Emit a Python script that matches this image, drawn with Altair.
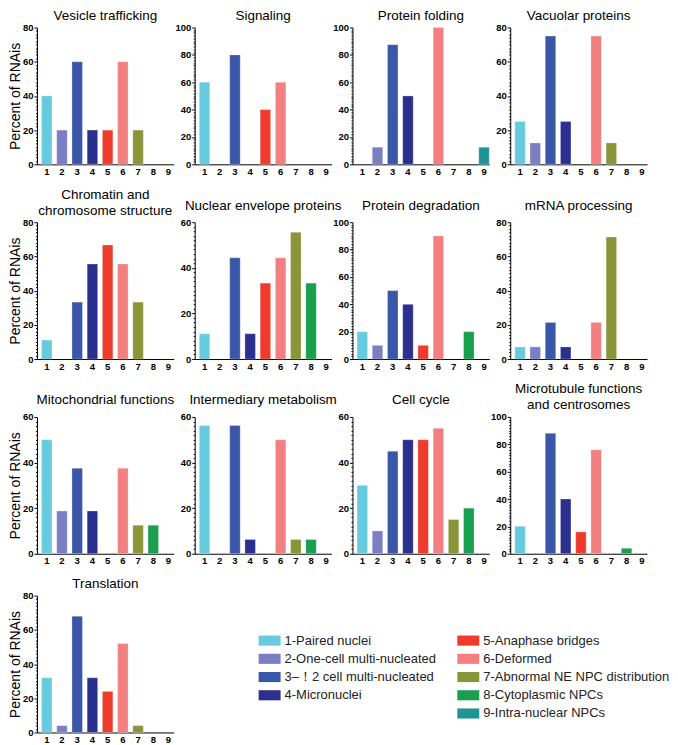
import altair as alt
import pandas as pd

FONT = "Liberation Sans"

categories = [1, 2, 3, 4, 5, 6, 7, 8, 9]
legend_labels = [
    "1-Paired nuclei",
    "2-One-cell multi-nucleated",
    "3–！2 cell multi-nucleated",
    "4-Micronuclei",
    "5-Anaphase bridges",
    "6-Deformed",
    "7-Abnormal NE NPC distribution",
    "8-Cytoplasmic NPCs",
    "9-Intra-nuclear NPCs",
]
bar_colors = ["#67CBE0", "#7A7EC2", "#3A56A6", "#2B2F8E", "#EE3B2C",
              "#F28080", "#8A9439", "#1A9E50", "#1E9494"]

vesicle_trafficking = [40, 20, 60, 20, 20, 60, 20, 0, 0]
signaling = [60, 0, 80, 0, 40, 60, 0, 0, 0]
protein_folding = [0, 12.5, 87.5, 50, 0, 100, 0, 0, 12.5]
vacuolar_proteins = [25, 12.5, 75, 25, 0, 75, 12.5, 0, 0]
chromatin = [11.1, 0, 33.3, 55.6, 66.7, 55.6, 33.3, 0, 0]
nuclear_envelope = [11.1, 0, 44.4, 11.1, 33.3, 44.4, 55.6, 33.3, 0]
protein_degradation = [20, 10, 50, 40, 10, 90, 0, 20, 0]
mrna_processing = [7.1, 7.1, 21.4, 7.1, 0, 21.4, 71.4, 0, 0]
mitochondrial = [50, 18.75, 37.5, 18.75, 0, 37.5, 12.5, 12.5, 0]
intermediary_metabolism = [56.25, 0, 56.25, 6.25, 0, 50, 6.25, 6.25, 0]
cell_cycle = [30, 10, 45, 50, 50, 55, 15, 20, 0]
microtubule = [20, 0, 88, 40, 16, 76, 0, 4, 0]
translation = [32, 4, 68, 32, 24, 52, 4, 0, 0]

panel_titles = [
    ["Vesicle trafficking"], ["Signaling"], ["Protein folding"], ["Vacuolar proteins"],
    ["Chromatin and", "chromosome structure"], ["Nuclear envelope proteins"],
    ["Protein degradation"], ["mRNA processing"],
    ["Mitochondrial functions"], ["Intermediary metabolism"], ["Cell cycle"],
    ["Microtubule functions", "and centrosomes"],
    ["Translation"],
]
panel_values = [
    vesicle_trafficking, signaling, protein_folding, vacuolar_proteins,
    chromatin, nuclear_envelope, protein_degradation, mrna_processing,
    mitochondrial, intermediary_metabolism, cell_cycle, microtubule,
    translation,
]
panel_ymax = [80, 100, 100, 80, 80, 60, 100, 80, 60, 60, 60, 100, 80]

W, H = 137, 137


def make_panel(idx):
    title_lines = panel_titles[idx]
    values = panel_values[idx]
    ymax = panel_ymax[idx]
    row = idx // 4
    first_col = idx % 4 == 0
    if len(title_lines) == 2:
        off = 0
    elif row in (1, 2):
        off = 5
    else:
        off = 0
    df = pd.DataFrame({"category": categories, "percent": values})
    df = df[df["percent"] > 0]
    tick_values = list(range(0, ymax + 1, 2))
    y_axis = alt.Axis(
        values=tick_values,
        labelExpr="datum.value % 20 == 0 ? datum.label : ''",
        tickSize={"condition": {"test": "datum.value % 20 == 0", "value": 3}, "value": 1.5},
        labelOverlap=False,
        grid=False,
        title="Percent of RNAis" if first_col else None,
        titleFontSize=14,
        titleFontWeight="normal",
        titleFont=FONT,
        titlePadding=0,
        titleColor="black",
        labelFont=FONT,
        labelFontSize=9.5,
        labelFontWeight="bold",
        labelColor="black",
        labelPadding=1,
        tickColor="black",
        domainColor="black",
    )
    x_axis = alt.Axis(
        labelAngle=0,
        ticks=False,
        title=None,
        labelFont=FONT,
        labelFontSize=9.5,
        labelFontWeight="bold",
        labelColor="black",
        labelPadding=2,
        domainColor="black",
    )
    return (
        alt.Chart(df)
        .mark_bar(stroke="white", strokeOpacity=0.35, strokeWidth=0.8)
        .encode(
            x=alt.X("category:O",
                    scale=alt.Scale(domain=categories, paddingInner=0.31,
                                    paddingOuter=0.15, align=1),
                    axis=x_axis),
            y=alt.Y("percent:Q", scale=alt.Scale(domain=[0, ymax], nice=False),
                    axis=y_axis),
            color=alt.Color("category:O",
                            scale=alt.Scale(domain=categories, range=bar_colors),
                            legend=None),
        )
        .properties(
            width=W,
            height=H,
            title=alt.TitleParams(text=title_lines, fontSize=13.5, fontWeight="normal",
                                  font=FONT, offset=off, lineHeight=16,
                                  color="black", anchor="middle"),
        )
    )


panels = [make_panel(i) for i in range(len(panel_titles))]

legend_df = pd.DataFrame({
    "label": legend_labels,
    "category": categories,
    "col": [0 if c <= 4 else 1 for c in categories],
    "row": [c - 1 if c <= 4 else c - 5 for c in categories],
})
lx = alt.X("col:Q", scale=alt.Scale(domain=[0, 1], range=[75, 274]), axis=None)
ly = alt.Y("row:Q", scale=alt.Scale(domain=[0, 4], range=[45, 118]), axis=None)
swatches = alt.Chart(legend_df).mark_point(
    shape="M-1,-0.46L1,-0.46L1,0.46L-1,0.46Z", size=484, filled=True, opacity=1
).encode(
    x=lx, y=ly,
    color=alt.Color("category:O", scale=alt.Scale(domain=categories, range=bar_colors),
                    legend=None),
)
labels = alt.Chart(legend_df).mark_text(
    align="left", baseline="middle", dx=15, fontSize=13, font=FONT, color="#222222"
).encode(x=lx, y=ly, text="label:N")
legend_chart = alt.layer(swatches, labels).properties(width=400, height=H)

rows = [
    alt.hconcat(*panels[0:4], spacing=21, bounds="flush"),
    alt.hconcat(*panels[4:8], spacing=21, bounds="flush"),
    alt.hconcat(*panels[8:12], spacing=21, bounds="flush"),
    alt.hconcat(panels[12], legend_chart, spacing=21, bounds="flush"),
]

chart = (
    alt.vconcat(*rows, spacing=11)
    .properties(padding=0)
    .configure_view(stroke=None)
)

chart.save("out.html", embed_options={"renderer": "svg", "actions": False})
